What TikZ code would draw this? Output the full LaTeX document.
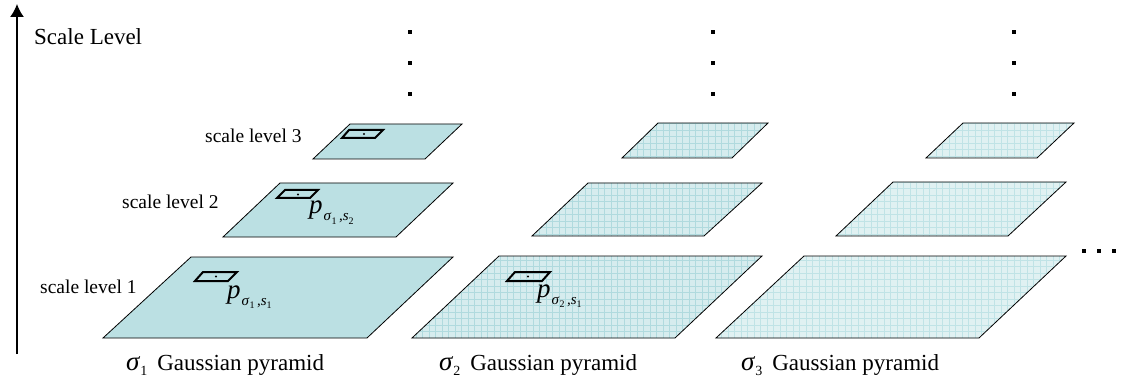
\documentclass[tikz,border=0pt]{standalone}
\usepackage{fontspec}
\setmainfont{Liberation Serif}
\usetikzlibrary{arrows.meta}
\definecolor{solidfill}{RGB}{187,224,227}
\definecolor{gridbgA}{RGB}{214,236,238}
\definecolor{gridlnA}{RGB}{176,218,222}
\definecolor{gridbgB}{RGB}{224,241,242}
\definecolor{gridlnB}{RGB}{192,227,230}
\newcommand\pyrp[2]{\textit{p}\hspace{1pt}\raisebox{-7pt}{\fontsize{15}{15}\selectfont\textit{σ}\raisebox{-3pt}{\fontsize{10}{10}\selectfont #1}\,,\textit{s}\raisebox{-3pt}{\fontsize{10}{10}\selectfont #2}}}
\newcommand\sigcap[1]{{\fontsize{27}{27}\selectfont\textit{σ}}\raisebox{-5pt}{\fontsize{14}{14}\selectfont #1}\hspace{10pt}Gaussian pyramid}
\tikzset{
  txt/.style={inner sep=0pt, anchor=base west, font=\fontsize{23}{23}\selectfont},
  lvl/.style={inner sep=0pt, anchor=base west, font=\fontsize{19.5}{19.5}\selectfont},
  plab/.style={inner sep=0pt, anchor=base west, font=\fontsize{27}{27}\selectfont},
  plane/.style={draw=black, line width=0.8pt, line join=miter},
  patch/.style={draw=black, line width=2pt, line join=miter},
  tick/.style={fill=black, minimum size=3.2pt, inner sep=0pt, draw=none, rectangle}
}
\newcommand\gridplane[6]{% x1 x2 (bottom) x3 x4 (top) ybot ytop
}
\begin{document}
\begin{tikzpicture}[x=1pt,y=-1pt]
\useasboundingbox (0,0) rectangle (1128,385);
% axis
\coordinate (axb) at (17,354);
\coordinate (axt) at (17,4);
\draw[line width=1.6pt, -{Latex[length=13pt,width=14pt]}] (axb) -- (axt);
\node[txt] (sl) at (34,45) {Scale Level};
% level labels
\node[lvl] (l3) at (205,143) {scale level 3};
\node[lvl] (l2) at (122,208) {scale level 2};
\node[lvl] (l1) at (40,293) {scale level 1};
% pyramid 1 (solid)
\fill[solidfill] (103,338) -- (367,338) -- (453,257) -- (191,257) -- cycle;
\draw[plane] (103,338) -- (367,338) -- (453,257) -- (191,257) -- cycle;
\fill[solidfill] (223,237) -- (396,237) -- (453,183) -- (280,183) -- cycle;
\draw[plane] (223,237) -- (396,237) -- (453,183) -- (280,183) -- cycle;
\fill[solidfill] (313,159) -- (425,159) -- (462,124) -- (350,124) -- cycle;
\draw[plane] (313,159) -- (425,159) -- (462,124) -- (350,124) -- cycle;
% pyramid 2 (grid)
\foreach \a/\b/\c/\d/\yb/\yt in {412/675/762/499/338/256, 532/704/762/588/236/183, 622/732/768/658/158/123}{
  \begin{scope}
    \clip (\a,\yb) -- (\b,\yb) -- (\c,\yt) -- (\d,\yt) -- cycle;
    \fill[gridbgA] (\a,\yb) -- (\b,\yb) -- (\c,\yt) -- (\d,\yt) -- cycle;
    \draw[gridlnA, line width=0.6pt, step=6.5pt] (400,100) grid (780,345);
  \end{scope}
  \draw[plane] (\a,\yb) -- (\b,\yb) -- (\c,\yt) -- (\d,\yt) -- cycle;
}
% pyramid 3 (grid, lighter)
\foreach \a/\b/\c/\d/\yb/\yt in {716/979/1066/804/338/256, 836/1008/1066/893/236/182, 926/1037/1074/963/158/123}{
  \begin{scope}
    \clip (\a,\yb) -- (\b,\yb) -- (\c,\yt) -- (\d,\yt) -- cycle;
    \fill[gridbgB] (\a,\yb) -- (\b,\yb) -- (\c,\yt) -- (\d,\yt) -- cycle;
    \draw[gridlnB, line width=0.6pt, step=6.5pt] (700,100) grid (1080,345);
  \end{scope}
  \draw[plane] (\a,\yb) -- (\b,\yb) -- (\c,\yt) -- (\d,\yt) -- cycle;
}
% patches
\draw[patch] (342,138) -- (375,138) -- (383,130) -- (349,130) -- cycle;
\fill (364,134) circle (1.1pt);
\draw[patch] (277,198) -- (310,198) -- (318,190) -- (285,190) -- cycle;
\fill (298,194.5) circle (1.1pt);
\draw[patch] (195,281) -- (228,281) -- (237,272) -- (203,272) -- cycle;
\fill (216,276.5) circle (1.1pt);
\draw[patch] (507,281) -- (542,281) -- (550,272) -- (515,272) -- cycle;
\fill (528,276.5) circle (1.1pt);
% p labels
\node[plab] (p12) at (309,214) {\pyrp{1}{2}};
\node[plab] (p11) at (227,298) {\pyrp{1}{1}};
\node[plab] (p21) at (537,297) {\pyrp{2}{1}};
% vertical dots
\foreach \x/\n in {410/a,713/b,1014/c}{
  \node[tick] (d\n1) at (\x,32) {};
  \node[tick] (d\n2) at (\x,63) {};
  \node[tick] (d\n3) at (\x,94) {};
}
% horizontal dots
\node[tick] (h1) at (1084,251) {};
\node[tick] (h2) at (1099,251) {};
\node[tick] (h3) at (1114,251) {};
% captions
\node[txt] (c1) at (126,370) {\sigcap{1}};
\node[txt] (c2) at (439,370) {\sigcap{2}};
\node[txt] (c3) at (741,370) {\sigcap{3}};
\end{tikzpicture}
\end{document}
